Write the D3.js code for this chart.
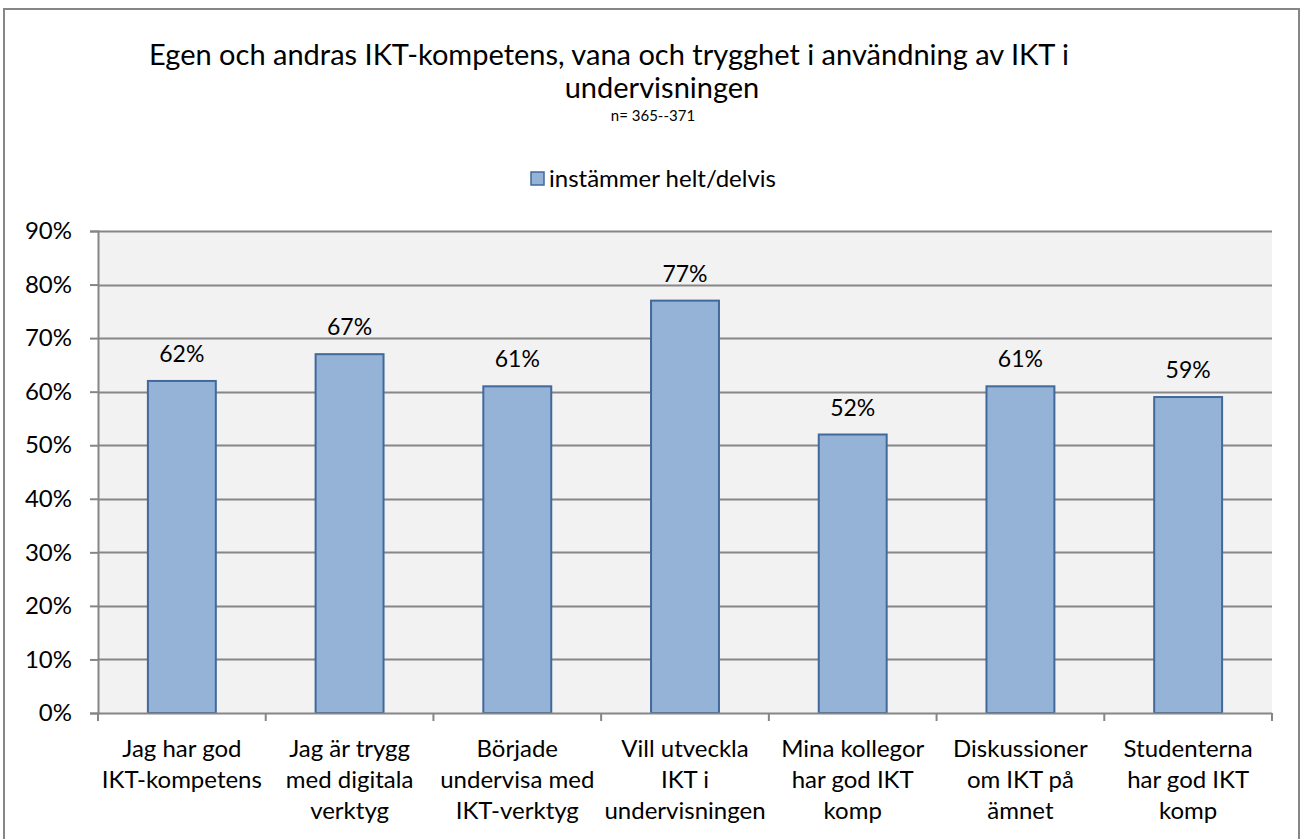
<!DOCTYPE html>
<html>
<head>
<meta charset="utf-8">
<script src="https://cdn.jsdelivr.net/npm/d3@7"></script>
<style>
  html, body { margin: 0; padding: 0; background: #fff; }
  svg { display: block; font-family: Lato, "Open Sans", sans-serif; }
</style>
</head>
<body>
<svg id="chart" width="1307" height="839"></svg>
<script>
const categories = [
  ["Jag har god", "IKT-kompetens"],
  ["Jag är trygg", "med digitala", "verktyg"],
  ["Började", "undervisa med", "IKT-verktyg"],
  ["Vill utveckla", "IKT i", "undervisningen"],
  ["Mina kollegor", "har god IKT", "komp"],
  ["Diskussioner", "om IKT på", "ämnet"],
  ["Studenterna", "har god IKT", "komp"]
];
const values = [0.62, 0.67, 0.61, 0.77, 0.52, 0.61, 0.59];
const yTicks = [0, 0.1, 0.2, 0.3, 0.4, 0.5, 0.6, 0.7, 0.8, 0.9];
const titleLines = ["Egen och andras IKT-kompetens, vana och trygghet i användning av IKT i", "undervisningen"];
const subtitle = "n= 365--371";
const seriesName = "instämmer helt/delvis";

const svg = d3.select("#chart");
const margin = { left: 98, right: 1272, top: 231, bottom: 713 };

// chart border
svg.append("rect").attr("x", 4).attr("y", 9).attr("width", 1295).attr("height", 840)
  .attr("fill", "#fff").attr("stroke", "#868686").attr("stroke-width", 2);

const x = d3.scaleBand().domain(d3.range(categories.length)).range([margin.left, margin.right]).padding(0);
const y = d3.scaleLinear().domain([0, 0.9]).range([margin.bottom, margin.top]);

// plot area
svg.append("rect").attr("x", margin.left).attr("y", margin.top)
  .attr("width", margin.right - margin.left).attr("height", margin.bottom - margin.top)
  .attr("fill", "#f2f2f2");

// gridlines
svg.append("g").selectAll("line").data(yTicks.filter(d => d > 0)).join("line")
  .attr("x1", margin.left).attr("x2", margin.right)
  .attr("y1", d => Math.round(y(d)) + 0.5).attr("y2", d => Math.round(y(d)) + 0.5)
  .attr("stroke", "#868686").attr("stroke-width", 2);

// y axis
const yAxis = d3.axisLeft(y).tickValues(yTicks).tickFormat(d3.format(".0%")).tickSize(8).tickPadding(18);
const gy = svg.append("g").attr("transform", `translate(${margin.left},0)`).call(yAxis);
gy.select(".domain").attr("stroke", "#868686").attr("stroke-width", 2);
gy.selectAll(".tick line").attr("stroke", "#868686").attr("stroke-width", 2);
gy.selectAll(".tick text").attr("font-size", 24).attr("fill", "#000").attr("font-family", "Lato, sans-serif");

// bars
const bw = x.bandwidth() * 0.405;
svg.append("g").selectAll("rect").data(values).join("rect")
  .attr("x", (d, i) => x(i) + (x.bandwidth() - bw) / 2)
  .attr("y", d => y(d))
  .attr("width", bw)
  .attr("height", d => y(0) - y(d))
  .attr("fill", "#95b3d7").attr("stroke", "#41699b").attr("stroke-width", 2);

// data labels
svg.append("g").selectAll("text").data(values).join("text")
  .attr("x", (d, i) => x(i) + x.bandwidth() / 2)
  .attr("y", d => y(d) - 19)
  .attr("text-anchor", "middle").attr("font-size", 23).attr("fill", "#000")
  .text(d => d3.format(".0%")(d));

// x axis line + ticks
svg.append("line").attr("x1", margin.left).attr("x2", margin.right)
  .attr("y1", margin.bottom + 0.5).attr("y2", margin.bottom + 0.5)
  .attr("stroke", "#868686").attr("stroke-width", 2);
const bounds = d3.range(categories.length + 1).map(i => i < categories.length ? x(i) : margin.right);
svg.append("g").selectAll("line").data(bounds).join("line")
  .attr("x1", d => d).attr("x2", d => d)
  .attr("y1", margin.bottom).attr("y2", margin.bottom + 8)
  .attr("stroke", "#868686").attr("stroke-width", 2);

// category labels
const cl = svg.append("g").selectAll("text").data(categories).join("text")
  .attr("x", (d, i) => x(i) + x.bandwidth() / 2)
  .attr("y", 757)
  .attr("text-anchor", "middle").attr("font-size", 24).attr("fill", "#000");
cl.selectAll("tspan").data((d, i) => d.map(t => ({ t, i }))).join("tspan")
  .attr("x", d => x(d.i) + x.bandwidth() / 2)
  .attr("dy", (d, j) => j === 0 ? 0 : 31)
  .text(d => d.t);

// title
const titleX = [609, 662];
svg.append("g").selectAll("text").data(titleLines).join("text")
  .attr("x", (d, i) => titleX[i]).attr("y", (d, i) => 65 + i * 33)
  .attr("text-anchor", "middle").attr("font-size", 29).attr("fill", "#000")
  .text(d => d);
svg.append("text").attr("x", 653).attr("y", 121).attr("text-anchor", "middle")
  .attr("font-size", 15).attr("fill", "#000").text(subtitle);

// legend
const lg = svg.append("g");
lg.append("rect").attr("x", 531).attr("y", 172).attr("width", 13).attr("height", 13)
  .attr("fill", "#95b3d7").attr("stroke", "#41699b").attr("stroke-width", 1.5);
lg.append("text").attr("x", 549).attr("y", 187).attr("font-size", 24).attr("fill", "#000").text(seriesName);
</script>
</body>
</html>
